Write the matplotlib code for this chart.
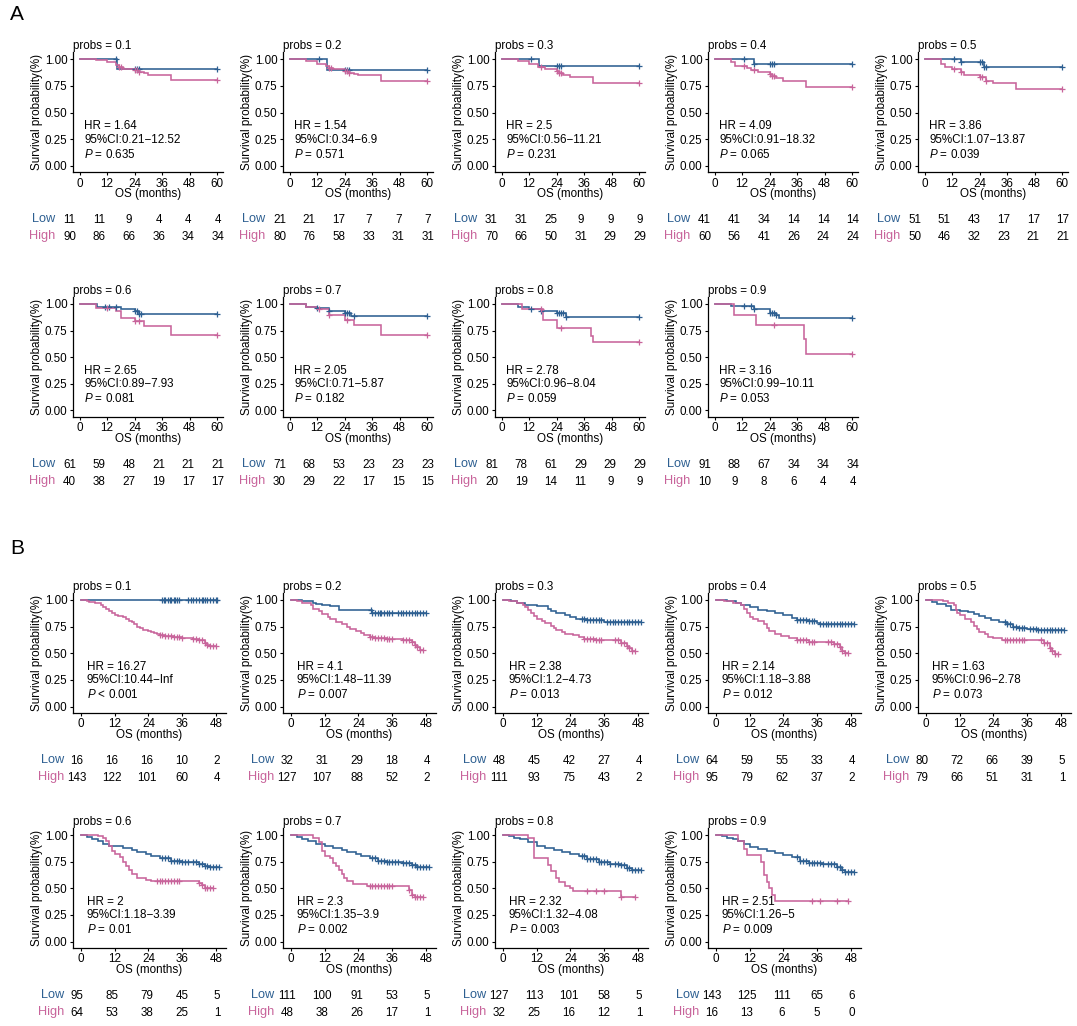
import matplotlib
matplotlib.use("Agg")
import matplotlib.pyplot as plt

plt.rcParams['font.family'] = ['Liberation Sans', 'DejaVu Sans']
plt.rcParams['mathtext.fontset'] = 'custom'
plt.rcParams['mathtext.rm'] = 'Liberation Sans'
plt.rcParams['mathtext.it'] = 'Liberation Sans:italic'

BLUE = "#2D5F91"
PINK = "#C8649B"

# ---------------- data: section A ----------------
A_probs = ["0.1", "0.2", "0.3", "0.4", "0.5", "0.6", "0.7", "0.8", "0.9"]
A_hr = ["1.64", "1.54", "2.5", "4.09", "3.86", "2.65", "2.05", "2.78", "3.16"]
A_ci = ["0.21\u221212.52", "0.34\u22126.9", "0.56\u221211.21", "0.91\u221218.32", "1.07\u221213.87",
        "0.89\u22127.93", "0.71\u22125.87", "0.96\u22128.04", "0.99\u221210.11"]
A_p = ["= 0.635", "= 0.571", "= 0.231", "= 0.065", "= 0.039", "= 0.081", "= 0.182", "= 0.059", "= 0.053"]
A_low_risk = [[11, 11, 9, 4, 4, 4], [21, 21, 17, 7, 7, 7], [31, 31, 25, 9, 9, 9],
              [41, 41, 34, 14, 14, 14], [51, 51, 43, 17, 17, 17], [61, 59, 48, 21, 21, 21],
              [71, 68, 53, 23, 23, 23], [81, 78, 61, 29, 29, 29], [91, 88, 67, 34, 34, 34]]
A_high_risk = [[90, 86, 66, 36, 34, 34], [80, 76, 58, 33, 31, 31], [70, 66, 50, 31, 29, 29],
               [60, 56, 41, 26, 24, 24], [50, 46, 32, 23, 21, 21], [40, 38, 27, 19, 17, 17],
               [30, 29, 22, 17, 15, 15], [20, 19, 14, 11, 9, 9], [10, 9, 8, 6, 4, 4]]
A_low_t = [[0, 16.5], [0, 16.5], [0, 16.5], [0, 17], [0, 16, 26],
           [0, 7.5, 18, 24, 26], [0, 7, 12, 17, 24, 27], [0, 7, 12, 17, 24, 28], [0, 7, 17, 24, 27, 28]]
A_low_s = [[1, 0.91], [1, 0.90], [1, 0.94], [1, 0.955], [1, 0.97, 0.93],
           [1, 0.97, 0.95, 0.93, 0.91], [1, 0.97, 0.96, 0.93, 0.92, 0.89],
           [1, 0.97, 0.95, 0.935, 0.92, 0.88], [1, 0.98, 0.95, 0.92, 0.90, 0.87]]
A_low_c = [[16, 24, 25, 26, 60], [13, 24, 25, 26, 60], [13, 24, 25, 26, 60],
           [13, 17, 24, 25, 26, 60], [13, 16, 24, 25, 26, 27, 60], [11, 13, 16, 24, 25, 26, 27, 60],
           [12, 17, 24, 25, 26, 28, 60], [13, 17, 24, 25, 26, 27, 28, 60], [13, 16, 17, 24, 25, 26, 27, 60]]
A_high_t = [[0, 7, 12, 16, 17, 19, 24, 26, 28, 30, 40], [0, 7, 12, 16, 17, 19, 24, 26, 28, 30, 40],
            [0, 7, 12, 16, 19, 24, 25, 27, 30, 40], [0, 7, 9, 14, 16, 19, 24, 25, 27, 30, 40],
            [0, 7, 9, 12, 16, 17, 24, 27, 30, 40], [0, 7, 16, 18, 24, 28, 40],
            [0, 7, 12, 17, 24, 28, 40], [0, 9, 18, 24, 39, 40], [0, 8.5, 18, 39, 40]]
A_high_s = [[1, 0.99, 0.97, 0.95, 0.93, 0.91, 0.90, 0.88, 0.87, 0.85, 0.81],
            [1, 0.98, 0.96, 0.94, 0.92, 0.91, 0.89, 0.87, 0.86, 0.85, 0.80],
            [1, 0.98, 0.96, 0.93, 0.91, 0.89, 0.87, 0.85, 0.83, 0.78],
            [1, 0.97, 0.94, 0.92, 0.90, 0.88, 0.86, 0.84, 0.82, 0.80, 0.74],
            [1, 0.96, 0.93, 0.91, 0.88, 0.85, 0.83, 0.80, 0.78, 0.72],
            [1, 0.96, 0.93, 0.87, 0.84, 0.79, 0.71],
            [1, 0.97, 0.95, 0.90, 0.85, 0.80, 0.71],
            [1, 0.95, 0.85, 0.775, 0.70, 0.64],
            [1, 0.90, 0.80, 0.67, 0.535]]
A_high_c = [[17, 18, 24, 25, 26, 60], [17, 18, 24, 25, 26, 60], [17, 24, 25, 26, 60],
            [13, 17, 24, 25, 26, 60], [13, 16, 24, 25, 27, 60], [12, 24, 26, 60],
            [13, 17, 25, 60], [17, 26, 60], [26, 60]]

# ---------------- data: section B ----------------
B_probs = ["0.1", "0.2", "0.3", "0.4", "0.5", "0.6", "0.7", "0.8", "0.9"]
B_hr = ["16.27", "4.1", "2.38", "2.14", "1.63", "2", "2.3", "2.32", "2.51"]
B_ci = ["10.44\u2212Inf", "1.48\u221211.39", "1.2\u22124.73", "1.18\u22123.88", "0.96\u22122.78",
        "1.18\u22123.39", "1.35\u22123.9", "1.32\u22124.08", "1.26\u22125"]
B_p = ["< 0.001", "= 0.007", "= 0.013", "= 0.012", "= 0.073", "= 0.01", "= 0.002", "= 0.003", "= 0.009"]
B_low_risk = [[16, 16, 16, 10, 2], [32, 31, 29, 18, 4], [48, 45, 42, 27, 4], [64, 59, 55, 33, 4],
              [80, 72, 66, 39, 5], [95, 85, 79, 45, 5], [111, 100, 91, 53, 5], [127, 113, 101, 58, 5],
              [143, 125, 111, 65, 6]]
B_high_risk = [[143, 122, 101, 60, 4], [127, 107, 88, 52, 2], [111, 93, 75, 43, 2], [95, 79, 62, 37, 2],
               [79, 66, 51, 31, 1], [64, 53, 38, 25, 1], [48, 38, 26, 17, 1], [32, 25, 16, 12, 1],
               [16, 13, 6, 5, 0]]
B_low_t = [[0],
           [0, 4, 8, 9, 11, 14, 17, 29],
           [0, 3, 5, 8, 12, 16, 17, 19, 22, 24, 26, 30, 36],
           [0, 4, 7, 9, 12, 15, 18, 21, 24, 27, 29, 33, 36, 37],
           [0, 2, 4, 7, 9, 12, 15, 17, 19, 21, 23, 26, 29, 31, 33, 36, 40],
           [0, 2, 4, 6, 8, 10, 15, 18, 20, 23, 25, 28, 32, 36, 42, 44, 46],
           [0, 2, 4, 6, 9, 12, 15, 18, 20, 23, 25, 28, 31, 34, 40, 43, 45],
           [0, 2, 4, 6, 9, 12, 15, 18, 21, 24, 27, 30, 34, 38, 42, 44, 46],
           [0, 2, 4, 6, 8, 10, 12, 15, 18, 21, 24, 27, 30, 33, 38, 43, 45, 46]]
B_low_s = [[1],
           [1, 0.99, 0.97, 0.96, 0.95, 0.94, 0.91, 0.88],
           [1, 0.99, 0.97, 0.95, 0.94, 0.92, 0.90, 0.88, 0.86, 0.84, 0.82, 0.81, 0.79],
           [1, 0.99, 0.97, 0.95, 0.93, 0.91, 0.90, 0.88, 0.86, 0.83, 0.81, 0.80, 0.78, 0.77],
           [1, 0.98, 0.96, 0.94, 0.91, 0.90, 0.89, 0.87, 0.85, 0.83, 0.81, 0.79, 0.77, 0.75, 0.74, 0.73, 0.72],
           [1, 0.98, 0.96, 0.94, 0.92, 0.90, 0.88, 0.86, 0.84, 0.82, 0.80, 0.78, 0.76, 0.75, 0.73, 0.71, 0.70],
           [1, 0.98, 0.96, 0.94, 0.92, 0.90, 0.88, 0.86, 0.84, 0.82, 0.80, 0.78, 0.76, 0.75, 0.74, 0.72, 0.70],
           [1, 0.99, 0.97, 0.96, 0.93, 0.90, 0.88, 0.86, 0.84, 0.82, 0.80, 0.77, 0.75, 0.73, 0.72, 0.69, 0.67],
           [1, 0.99, 0.97, 0.96, 0.94, 0.92, 0.89, 0.87, 0.85, 0.83, 0.81, 0.79, 0.76, 0.74, 0.73, 0.70, 0.67, 0.65]]
B_low_c = [[29, 29.5, 30, 31, 31.5, 32, 33, 33.5, 34, 35, 38, 39, 40, 41, 42, 43, 43.5, 44, 45, 46, 47, 48, 48.5],
           [28.5, 29, 30, 31, 31.5, 32, 33, 34, 35, 36, 38, 39, 40, 41, 42, 43, 44, 45, 46, 47, 48],
           [28, 29, 30, 31, 32, 33, 34, 35, 37, 38, 39, 40, 41, 42, 43, 44, 45, 46, 47, 48, 49],
           [29, 30, 31, 32, 33, 34, 35, 37, 38, 39, 40, 41, 42, 43, 44, 45, 46, 47, 48, 49],
           [28, 29, 30, 31, 32, 33, 34, 35, 37, 38, 39, 40, 41, 42, 43, 44, 45, 46, 47, 48, 49],
           [29, 30, 31, 32, 33, 34, 35, 36, 37, 38, 40, 41, 42, 43, 44, 45, 46, 47, 48, 49],
           [29, 30, 31, 32, 33, 34, 35, 36, 37, 38, 40, 41, 42, 43, 44, 45, 46, 47, 48, 49],
           [28, 29, 30, 31, 32, 33, 34, 35, 36, 37, 38, 40, 41, 42, 43, 44, 45, 46, 47, 48, 49],
           [29, 30, 31, 32, 33, 34, 35, 36, 37, 38, 40, 41, 42, 43, 44, 45, 46, 47, 48, 49]]
B_high_t = [[0, 2, 3, 5, 7, 8, 9, 10, 11, 12, 13, 15, 16, 17, 18, 19, 20, 21, 22, 24, 25, 26, 27, 28, 30, 33,
             36, 40, 42, 44, 45, 46],
            [0, 2, 4, 7, 8, 10, 11, 13, 14, 16, 18, 20, 21, 23, 25, 26, 28, 30, 34, 40, 43, 44, 45, 46],
            [0, 2, 5, 7, 8, 9, 10, 11, 12, 14, 15, 17, 18, 19, 21, 22, 25, 27, 29, 33, 42, 44, 45, 46],
            [0, 3, 6, 9, 10, 11, 12, 13, 15, 17, 18, 19, 21, 23, 26, 29, 33, 42, 44, 45, 46],
            [0, 6, 8, 10, 10.5, 11, 12, 14, 16, 17, 18, 19, 21, 22, 24, 27, 42, 44, 45, 46],
            [0, 6, 8, 9, 10, 11, 12, 14, 15, 16, 17, 18, 20, 23, 25, 42, 43, 44],
            [0, 8, 10, 11, 12, 14, 15, 16, 17, 18, 19, 20, 22, 27, 42, 43, 44],
            [0, 9, 11, 16, 17, 19, 20, 22, 24, 25, 42],
            [0, 8, 10, 11, 16, 17, 18, 19, 20, 21]]
B_high_s = [[1, 0.99, 0.98, 0.97, 0.95, 0.93, 0.92, 0.90, 0.88, 0.86, 0.85, 0.84, 0.82, 0.80, 0.79, 0.77, 0.75,
             0.74, 0.72, 0.71, 0.70, 0.69, 0.68, 0.67, 0.66, 0.65, 0.64, 0.63, 0.62, 0.60, 0.58, 0.57],
            [1, 0.99, 0.97, 0.95, 0.92, 0.90, 0.87, 0.84, 0.82, 0.79, 0.77, 0.75, 0.73, 0.71, 0.69, 0.67, 0.65,
             0.64, 0.63, 0.62, 0.61, 0.58, 0.56, 0.53],
            [1, 0.99, 0.97, 0.95, 0.93, 0.91, 0.88, 0.85, 0.82, 0.80, 0.78, 0.76, 0.74, 0.72, 0.70, 0.68, 0.67,
             0.65, 0.63, 0.62, 0.60, 0.57, 0.55, 0.52],
            [1, 0.99, 0.97, 0.95, 0.92, 0.88, 0.84, 0.82, 0.80, 0.77, 0.74, 0.71, 0.68, 0.66, 0.64, 0.62, 0.61,
             0.59, 0.56, 0.52, 0.50],
            [1, 0.99, 0.97, 0.95, 0.91, 0.88, 0.86, 0.82, 0.79, 0.76, 0.73, 0.70, 0.68, 0.65, 0.64, 0.62, 0.60,
             0.55, 0.52, 0.49],
            [1, 0.99, 0.97, 0.94, 0.90, 0.85, 0.82, 0.79, 0.75, 0.71, 0.67, 0.63, 0.60, 0.58, 0.57, 0.55, 0.53, 0.50],
            [1, 0.97, 0.93, 0.85, 0.80, 0.78, 0.74, 0.71, 0.67, 0.63, 0.60, 0.57, 0.54, 0.52, 0.48, 0.44, 0.42],
            [1, 0.97, 0.78, 0.72, 0.66, 0.60, 0.56, 0.52, 0.50, 0.47, 0.42],
            [1, 0.94, 0.87, 0.81, 0.75, 0.62, 0.56, 0.50, 0.44, 0.38]]
B_high_c = [[28, 29, 30, 31, 32, 33, 34, 35, 36, 40, 41, 42, 43, 44, 45, 46, 47, 48],
            [28, 29, 30, 31, 32, 33, 34, 35, 36, 40, 41, 42, 43, 44, 45, 46, 47],
            [29, 30, 31, 32, 33, 34, 35, 40, 41, 42, 43, 44, 45, 46, 47],
            [29, 30, 31, 32, 33, 34, 35, 40, 41, 42, 43, 44, 45, 46, 47],
            [28, 29, 30, 31, 32, 33, 34, 35, 41, 42, 43, 44, 45, 46, 47],
            [27, 28, 29, 30, 31, 32, 33, 34, 35, 42, 43, 44, 45, 46, 47],
            [28, 29, 30, 31, 32, 33, 34, 35, 36, 42, 43, 44, 45, 46, 47],
            [30, 33, 36, 42, 47],
            [34, 37, 43, 47]]

A_ticks = [0, 12, 24, 36, 48, 60]
B_ticks = [0, 12, 24, 36, 48]
Y_ticks = [0.0, 0.25, 0.5, 0.75, 1.0]
Y_labels = ["0.00", "0.25", "0.50", "0.75", "1.00"]

# ---------------- layout (pixels) ----------------
W, H = 1077, 1026
fig = plt.figure(figsize=(W / 100, H / 100), dpi=100)
COLX = [73, 283, 495, 708, 918]
ROW_Y1 = {"A": [59.3, 304.0], "B": [600.0, 835.0]}
YPX = 106.5
YLIM = (-0.06, 1.07)
FS = 8.4


def px_to_fig(x, y):
    return x / W, 1 - y / H


def surv_at(t, s, c):
    val = s[0]
    for ti, si in zip(t, s):
        if ti <= c:
            val = si
    return val


def draw_curve(ax, t, s, cens, color):
    tend = max([t[-1]] + list(cens))
    xs = list(t) + [tend]
    ys = list(s) + [s[-1]]
    ax.step(xs, ys, where="post", color=color, lw=1.15, solid_joinstyle="miter", zorder=3)
    cy = [surv_at(t, s, c) for c in cens]
    ax.plot(cens, cy, ls="none", marker="+", ms=5, mew=0.9, color=color, zorder=4)


def panel(section, i):
    row, col = divmod(i, 5)
    axl = COLX[col]
    y1 = ROW_Y1[section][row]
    if section == "A":
        xlim = (-2.9, 62.8); ppm = 2.29; ticks = A_ticks
        d = dict(probs=A_probs, hr=A_hr, ci=A_ci, p=A_p, lr=A_low_risk, hrk=A_high_risk,
                 lt=A_low_t, ls=A_low_s, lc=A_low_c, ht=A_high_t, hs=A_high_s, hc=A_high_c)
        num0, num1, lab_off = -3.5, 145.0, -18
    else:
        xlim = (-2.85, 51.5); ppm = 2.81; ticks = B_ticks
        d = dict(probs=B_probs, hr=B_hr, ci=B_ci, p=B_p, lr=B_low_risk, hrk=B_high_risk,
                 lt=B_low_t, ls=B_low_s, lc=B_low_c, ht=B_high_t, hs=B_high_s, hc=B_high_c)
        num0, num1, lab_off = 4.0, 144.0, -9
    wpx = (xlim[1] - xlim[0]) * ppm
    top = y1 - (YLIM[1] - 1.0) * YPX
    bot = y1 + (1.0 - YLIM[0]) * YPX
    l, b = px_to_fig(axl, bot)
    ax = fig.add_axes([l, b, wpx / W, (bot - top) / H])
    ax.set_xlim(*xlim)
    ax.set_ylim(*YLIM)
    for sp in ["top", "right"]:
        ax.spines[sp].set_visible(False)
    for sp in ["left", "bottom"]:
        ax.spines[sp].set_linewidth(0.9)
    ax.set_xticks(ticks)
    ax.set_yticks(Y_ticks)
    ax.set_yticklabels(Y_labels)
    ax.tick_params(axis="both", labelsize=FS, length=2.5, width=0.8, pad=1.5, colors="black")
    ax.set_xlabel("OS (months)", fontsize=FS, labelpad=-1)
    ax.set_ylabel("Survival probability(%)", fontsize=FS, labelpad=1)
    ax.set_title(f"probs = {d['probs'][i]}", loc="left", fontsize=FS, pad=2)

    draw_curve(ax, d["lt"][i], d["ls"][i], d["lc"][i], BLUE)
    draw_curve(ax, d["ht"][i], d["hs"][i], d["hc"][i], PINK)

    ax.text(2.0, 0.37, f"HR = {d['hr'][i]}", fontsize=FS, va="center", ha="left")
    ax.text(2.0, 0.245, f"95%CI:{d['ci'][i]}", fontsize=FS, va="center", ha="left")
    ax.text(2.0, 0.11, r"$\it{P}$ " + d["p"][i], fontsize=FS, va="center", ha="left")

    # numbers at risk
    ylow = bot + 48
    yhigh = bot + 65
    n = len(ticks)
    for k in range(n):
        x = axl + num0 + k * (num1 - num0) / (n - 1)
        fx, fy = px_to_fig(x, ylow)
        fig.text(fx, fy, str(d["lr"][i][k]), ha="center", va="center", fontsize=FS)
        fx, fy = px_to_fig(x, yhigh)
        fig.text(fx, fy, str(d["hrk"][i][k]), ha="center", va="center", fontsize=FS)
    fx, fy = px_to_fig(axl + lab_off, ylow - 1)
    fig.text(fx, fy, "Low", ha="right", va="center", fontsize=9.2, color=BLUE)
    fx, fy = px_to_fig(axl + lab_off, yhigh - 1)
    fig.text(fx, fy, "High", ha="right", va="center", fontsize=9.2, color=PINK)


for i in range(9):
    panel("A", i)
    panel("B", i)

fx, fy = px_to_fig(17, 15)
fig.text(fx, fy, "A", fontsize=15, ha="center", va="center")
fx, fy = px_to_fig(17, 548)
fig.text(fx, fy, "B", fontsize=15, ha="center", va="center")

fig.savefig("out.png", dpi=100, facecolor="white")
